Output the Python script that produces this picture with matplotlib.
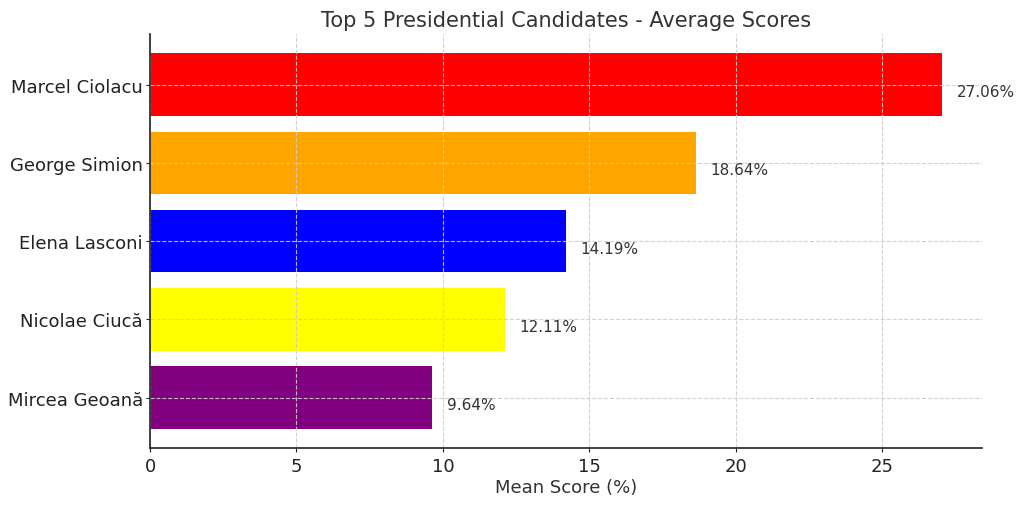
import matplotlib
matplotlib.use("Agg")
import matplotlib.pyplot as plt

# data
candidates = ["Marcel Ciolacu", "George Simion", "Elena Lasconi", "Nicolae Ciucă", "Mircea Geoană"]
scores = [27.06, 18.64, 14.19, 12.11, 9.64]
colors = ["red", "orange", "blue", "yellow", "purple"]

txt = "#333333"
plt.rcParams["font.family"] = ["DejaVu Sans"]

fig, ax = plt.subplots(figsize=(10.24, 5.06), dpi=100)
ax.barh(candidates, scores, color=colors, height=0.8)
ax.invert_yaxis()

# value labels right of each bar
for i, v in enumerate(scores):
    ax.text(v + 0.5, i + 0.09, f"{v:.2f}%", va="center", fontsize=11, color=txt)

ax.set_title("Top 5 Presidential Candidates - Average Scores", fontsize=15, color=txt)
ax.set_xlabel("Mean Score (%)", fontsize=13, color=txt, labelpad=2)
ax.tick_params(axis="both", labelsize=13, colors="#222222", length=3)
ax.tick_params(axis="y", pad=2)
ax.grid(True, linestyle="--", color="#cccccc", linewidth=0.8, alpha=0.9)
ax.set_axisbelow(False)
for s in ["top", "right"]:
    ax.spines[s].set_visible(False)
for s in ["left", "bottom"]:
    ax.spines[s].set_color(txt)
    ax.spines[s].set_linewidth(1.3)
    ax.spines[s].set_zorder(5)

fig.subplots_adjust(left=0.1465, right=0.959, top=0.93, bottom=0.113)
fig.savefig("out.png", dpi=100)
